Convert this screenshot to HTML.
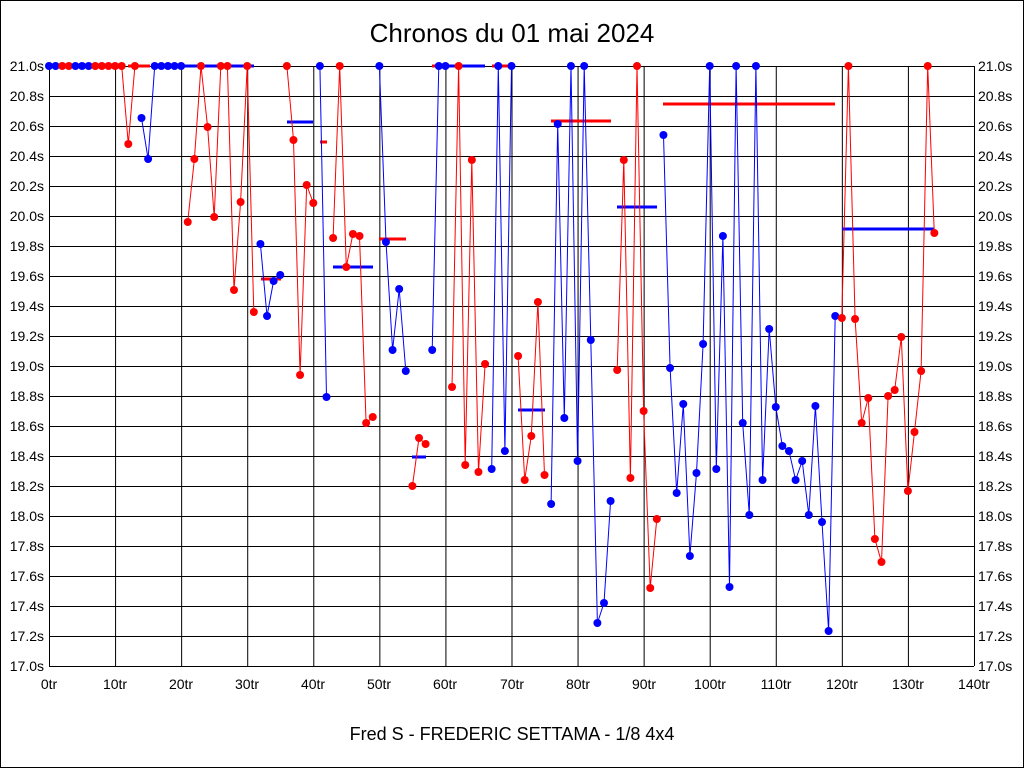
<!DOCTYPE html>
<html><head><meta charset="utf-8"><style>
html,body{margin:0;padding:0;background:#fff}
svg{display:block}
text{font-family:"Liberation Sans",sans-serif}
</style></head><body>
<svg id="s" width="1024" height="768" xmlns="http://www.w3.org/2000/svg">
<rect x="0.5" y="0.5" width="1023" height="767" fill="#fff" stroke="#000"/>
<text x="512" y="42" font-size="26" text-anchor="middle">Chronos du 01 mai 2024</text>
<text x="512" y="740" font-size="18" text-anchor="middle">Fred S - FREDERIC SETTAMA - 1/8 4x4</text>
<g id="grid" stroke="#000" stroke-width="1"></g>
<g font-size="14" fill="#000">
<text x="44" y="71" text-anchor="end">21.0s</text><text x="44" y="101" text-anchor="end">20.8s</text><text x="44" y="131" text-anchor="end">20.6s</text><text x="44" y="161" text-anchor="end">20.4s</text><text x="44" y="191" text-anchor="end">20.2s</text><text x="44" y="221" text-anchor="end">20.0s</text><text x="44" y="251" text-anchor="end">19.8s</text><text x="44" y="281" text-anchor="end">19.6s</text><text x="44" y="311" text-anchor="end">19.4s</text><text x="44" y="341" text-anchor="end">19.2s</text><text x="44" y="371" text-anchor="end">19.0s</text><text x="44" y="401" text-anchor="end">18.8s</text><text x="44" y="431" text-anchor="end">18.6s</text><text x="44" y="461" text-anchor="end">18.4s</text><text x="44" y="491" text-anchor="end">18.2s</text><text x="44" y="521" text-anchor="end">18.0s</text><text x="44" y="551" text-anchor="end">17.8s</text><text x="44" y="581" text-anchor="end">17.6s</text><text x="44" y="611" text-anchor="end">17.4s</text><text x="44" y="641" text-anchor="end">17.2s</text><text x="44" y="671" text-anchor="end">17.0s</text>
<text x="978" y="71">21.0s</text><text x="978" y="101">20.8s</text><text x="978" y="131">20.6s</text><text x="978" y="161">20.4s</text><text x="978" y="191">20.2s</text><text x="978" y="221">20.0s</text><text x="978" y="251">19.8s</text><text x="978" y="281">19.6s</text><text x="978" y="311">19.4s</text><text x="978" y="341">19.2s</text><text x="978" y="371">19.0s</text><text x="978" y="401">18.8s</text><text x="978" y="431">18.6s</text><text x="978" y="461">18.4s</text><text x="978" y="491">18.2s</text><text x="978" y="521">18.0s</text><text x="978" y="551">17.8s</text><text x="978" y="581">17.6s</text><text x="978" y="611">17.4s</text><text x="978" y="641">17.2s</text><text x="978" y="671">17.0s</text>
<text x="49" y="689" text-anchor="middle">0tr</text><text x="115" y="689" text-anchor="middle">10tr</text><text x="181" y="689" text-anchor="middle">20tr</text><text x="247" y="689" text-anchor="middle">30tr</text><text x="313" y="689" text-anchor="middle">40tr</text><text x="379" y="689" text-anchor="middle">50tr</text><text x="445" y="689" text-anchor="middle">60tr</text><text x="512" y="689" text-anchor="middle">70tr</text><text x="578" y="689" text-anchor="middle">80tr</text><text x="644" y="689" text-anchor="middle">90tr</text><text x="710" y="689" text-anchor="middle">100tr</text><text x="776" y="689" text-anchor="middle">110tr</text><text x="842" y="689" text-anchor="middle">120tr</text><text x="908" y="689" text-anchor="middle">130tr</text><text x="974" y="689" text-anchor="middle">140tr</text>
</g>
<g id="data"></g>
</svg>
<script>
var NS="http://www.w3.org/2000/svg",g=document.getElementById('grid'),d=document.getElementById('data');
function el(p,t,a){var e=document.createElementNS(NS,t);for(var k in a)e.setAttribute(k,a[k]);p.appendChild(e);return e;}
for(var i=0;i<=20;i++){var y=66.5+i*30;el(g,'line',{x1:49,x2:974,y1:y,y2:y});}
for(var i=0;i<=14;i++){var x=49.5+i*66.07;el(g,'line',{x1:x,x2:x,y1:66,y2:666});}
el(g,'line',{x1:974.5,x2:974.5,y1:66,y2:666});
var X=function(t){return 49+t*6.607;};
var Y=[66,66,66,66,66,66,66,66,66,66,66,66,144,66,118,159,66,66,66,66,66,222,159,66,127,217,66,66,290,202,66,312,244,316,281,275,66,140,375,185,203,66,397,238,66,267,234,236,423,417,66,242,350,289,371,486,438,444,350,66,66,387,66,465,160,472,364,469,66,451,66,356,480,436,302,475,504,124,418,66,461,66,340,623,603,501,370,160,478,66,411,588,519,135,368,493,404,556,473,344,66,469,236,587,66,423,515,66,480,329,407,446,451,480,461,515,406,522,631,316,318,66,319,423,398,539,562,396,390,337,491,432,371,66,233];
var runs=[[0,1,'b'],[2,3,'r'],[4,6,'b'],[7,13,'r'],[14,20,'b'],[21,31,'r'],[32,35,'b'],[36,40,'r'],[41,42,'b'],[43,49,'r'],[50,54,'b'],[55,57,'r'],[58,60,'b'],[61,66,'r'],[67,70,'b'],[71,75,'r'],[76,85,'b'],[86,92,'r'],[93,119,'b'],[120,134,'r']];
var C={r:'#ff0000',b:'#0000ff'};
var bars=[[49,75,66,'b'],[128,150,66,'r'],[180,254,66,'b'],[287,313,122,'b'],[261,281,279,'r'],[320,327,142,'r'],[333,373,267,'b'],[379,406,239,'r'],[412,426,457,'b'],[432,445,66,'r'],[445,485,66,'b'],[492,512,66,'r'],[518,545,410,'b'],[551,611,121,'r'],[617,657,207,'b'],[663,835,104,'r'],[842,934,229,'b']];
bars.forEach(function(b){el(d,'line',{x1:b[0],x2:b[1],y1:b[2],y2:b[2],stroke:C[b[3]],'stroke-width':3});});
runs.forEach(function(r){var pts=[];for(var t=r[0];t<=r[1];t++)pts.push(X(t).toFixed(1)+','+Y[t]);
el(d,'polyline',{points:pts.join(' '),fill:'none',stroke:C[r[2]],'stroke-width':1});
for(var t=r[0];t<=r[1];t++)el(d,'circle',{cx:X(t),cy:Y[t],r:4,fill:C[r[2]]});});
</script>
</body></html>
